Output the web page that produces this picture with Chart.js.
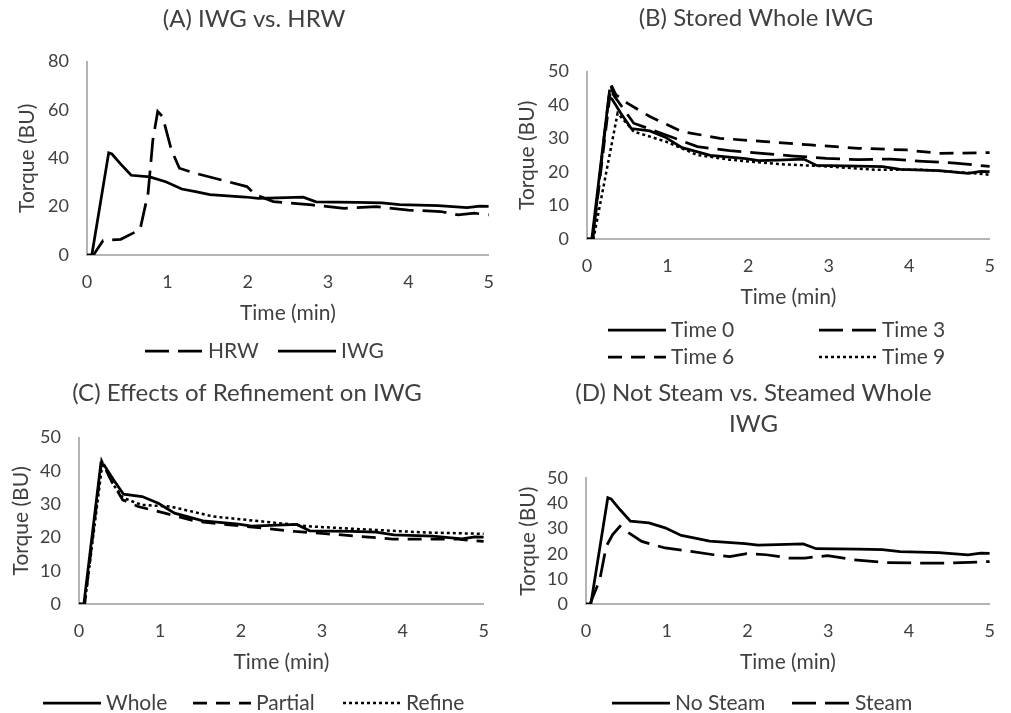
<!DOCTYPE html>
<html lang="en">
<head>
<meta charset="UTF-8">
<title>Dough Mixing Torque</title>
<script src="https://cdn.jsdelivr.net/npm/chart.js"></script>
<style>
  body { margin: 0; background: #fff; }
  #wrap { position: relative; width: 1011px; height: 713px; overflow: hidden; }
  canvas { position: absolute; }
</style>
</head>
<body>
<div id="wrap">
  <canvas id="chartA" width="510" height="371" style="left:0;top:0"></canvas>
  <canvas id="chartB" width="506" height="380" style="left:505px;top:0"></canvas>
  <canvas id="chartC" width="505" height="338" style="left:0;top:375px"></canvas>
  <canvas id="chartD" width="506" height="338" style="left:505px;top:375px"></canvas>
</div>
<script>
// torque (BU) against time (min)
const iwgTime   = [0, 0.06, 0.27, 0.31, 0.42, 0.55, 0.78, 0.98, 1.18, 1.35, 1.53, 1.97, 2.13, 2.37, 2.69, 2.85, 3.37, 3.67, 3.89, 4.37, 4.73, 4.89, 5.0];
const iwgTorque = [0, 0, 42.3, 41.8, 37.6, 33, 32.3, 30.3, 27.3, 26.2, 25, 24, 23.4, 23.6, 23.9, 22, 21.8, 21.6, 20.8, 20.4, 19.6, 20.2, 20.1];

const hrwTime   = [0, 0.08, 0.2, 0.42, 0.66, 0.76, 0.82, 0.88, 0.94, 1.05, 1.15, 1.35, 1.75, 1.99, 2.1, 2.32, 2.8, 3.2, 3.6, 4.0, 4.4, 4.62, 4.82, 5.0];
const hrwTorque = [0, 0, 6, 6.5, 10.5, 25.5, 47.7, 59.4, 57.3, 43.5, 35.9, 33.8, 30.4, 28.3, 24.9, 22.1, 20.7, 19.3, 20, 18.6, 18, 16.6, 17.3, 16.6];

// stored whole IWG, months 3 / 6 / 9
const time3Time   = [0, 0.07, 0.29, 0.33, 0.58, 0.98, 1.37, 1.77, 2.17, 2.57, 2.97, 3.37, 3.77, 4.17, 4.57, 5.0];
const time3Torque = [0, 0, 46.5, 43, 34.6, 31.1, 27.6, 26.4, 25.6, 24.8, 24.1, 23.7, 23.9, 23.2, 22.7, 21.7];
const time6Time   = [0, 0.07, 0.3, 0.36, 0.5, 0.78, 1.18, 1.65, 2.21, 2.77, 3.37, 3.97, 4.37, 5.0];
const time6Torque = [0, 0, 46, 43.1, 40.6, 36.6, 32.1, 30.1, 29.1, 28.1, 27.1, 26.6, 25.6, 25.8];
const time9Time   = [0, 0.08, 0.38, 0.58, 0.98, 1.37, 1.77, 2.37, 2.97, 3.57, 4.17, 4.77, 5.0];
const time9Torque = [0, 0, 37.6, 32.1, 29.1, 25.1, 23.7, 22.4, 21.7, 20.7, 20.7, 19.7, 19.2];

// refinement
const partialTime   = [0, 0.07, 0.28, 0.4, 0.54, 0.73, 1.06, 1.46, 1.86, 2.27, 2.67, 3.07, 3.47, 3.88, 4.28, 4.68, 5.0];
const partialTorque = [0, 0, 43, 37, 31.3, 29.3, 27.3, 24.8, 23.8, 22.8, 21.8, 21.1, 20.3, 19.5, 19.5, 19.5, 18.8];
const refineTime    = [0, 0.07, 0.29, 0.42, 0.54, 0.77, 1.13, 1.66, 2.27, 2.87, 3.47, 4.28, 5.0];
const refineTorque  = [0, 0, 42.5, 36, 32, 29.8, 29.3, 26.3, 24.8, 23.3, 22.5, 21.5, 21.1];

// steamed
const steamTime   = [0, 0.05, 0.17, 0.25, 0.33, 0.42, 0.53, 0.69, 0.98, 1.3, 1.58, 1.78, 1.99, 2.23, 2.51, 2.71, 2.99, 3.32, 3.72, 4.12, 4.53, 5.0];
const steamTorque = [0, 0, 9.6, 22.9, 27.6, 30.9, 28.3, 24.9, 22.3, 20.9, 19.6, 18.9, 20, 19.6, 18.3, 18.3, 19.2, 17.6, 16.5, 16.3, 16.3, 16.9];

const SOLID = [];
const LONG_DASH = [24, 9];
const DASH = [14, 9];
const DOT = [3, 3];

const TEXT = '#404040';
Chart.defaults.font.family = 'Lato, sans-serif';
Chart.defaults.color = TEXT;

// legend drawn as a small grid of line samples
const lineKey = {
  id: 'lineKey',
  afterDraw(chart, args, opts) {
    const ctx = chart.ctx;
    ctx.save();
    ctx.font = '21px Lato, sans-serif';
    ctx.fillStyle = TEXT;
    ctx.textBaseline = 'middle';
    chart.data.datasets.forEach((ds, i) => {
      const x = opts.x[i], y = opts.y[i];
      ctx.strokeStyle = ds.borderColor;
      ctx.lineWidth = ds.borderWidth;
      ctx.setLineDash(ds.borderDash);
      ctx.beginPath();
      ctx.moveTo(x, y);
      ctx.lineTo(x + 58, y);
      ctx.stroke();
      ctx.fillText(ds.label, x + 63, y);
    });
    ctx.restore();
  }
};

function series(label, time, torque, dash) {
  return {
    label: label,
    data: time.map((t, i) => ({ x: t, y: torque[i] })),
    borderColor: '#000',
    borderWidth: dash === DOT ? 2.5 : 2.75,
    borderDash: dash,
    pointRadius: 0,
    tension: 0,
    fill: false
  };
}

function makePanel(id, p) {
  return new Chart(document.getElementById(id), {
    type: 'line',
    data: { datasets: p.series },
    options: {
      responsive: false,
      animation: false,
      layout: { padding: p.pad },
      plugins: {
        legend: { display: false },
        tooltip: { enabled: false },
        title: {
          display: true,
          text: p.title,
          color: TEXT,
          font: { size: 24, weight: 'normal', lineHeight: 1.32 },
          padding: p.titlePad
        },
        lineKey: { x: p.keyX, y: p.keyY }
      },
      scales: {
        x: {
          type: 'linear',
          min: 0, max: 5,
          grid: { display: false, drawTicks: false },
          border: { color: '#b4b4b4', width: 2 },
          ticks: { stepSize: 1, padding: 16, font: { size: 18 } },
          title: { display: true, text: 'Time (min)', font: { size: 21 }, padding: 0 },
          afterFit: s => { s.height = 71; }
        },
        y: {
          min: 0, max: p.yMax,
          grid: { display: false, drawTicks: false },
          border: { color: '#b4b4b4', width: 2 },
          ticks: { stepSize: p.yStep, padding: 18, font: { size: 18 } },
          title: { display: true, text: 'Torque (BU)', font: { size: 21 }, padding: { top: p.yTitlePad, bottom: 0 } },
          afterFit: s => { s.width = p.yWidth; }
        }
      }
    },
    plugins: [lineKey]
  });
}

makePanel('chartA', {
  title: '(A) IWG vs. HRW',
  series: [
    series('HRW', hrwTime, hrwTorque, LONG_DASH),
    series('IWG', iwgTime, iwgTorque, SOLID)
  ],
  yMax: 80, yStep: 20,
  pad: { left: 8, right: 10, top: 0, bottom: 45 },
  titlePad: { top: 3, bottom: 27 },
  yTitlePad: 7, yWidth: 79,
  keyX: [145, 278], keyY: [351, 351]
});

makePanel('chartB', {
  title: '(B) Stored Whole IWG',
  series: [
    series('Time 0', iwgTime, iwgTorque, SOLID),
    series('Time 3', time3Time, time3Torque, LONG_DASH),
    series('Time 6', time6Time, time6Torque, DASH),
    series('Time 9', time9Time, time9Torque, DOT)
  ],
  yMax: 50, yStep: 10,
  pad: { left: 3, right: 7, top: 0, bottom: 70 },
  titlePad: { top: 2, bottom: 38 },
  yTitlePad: 7, yWidth: 79,
  keyX: [103, 314, 103, 314], keyY: [330, 330, 357, 357]
});

makePanel('chartC', {
  title: '(C) Effects of Refinement on IWG',
  series: [
    series('Whole', iwgTime, iwgTorque, SOLID),
    series('Partial', partialTime, partialTorque, DASH),
    series('Refine', refineTime, refineTorque, DOT)
  ],
  yMax: 50, yStep: 10,
  pad: { left: 1, right: 12, top: 0, bottom: 38 },
  titlePad: { top: 2, bottom: 29 },
  yTitlePad: 8, yWidth: 78,
  keyX: [43, 193, 343], keyY: [328, 328, 328]
});

makePanel('chartD', {
  title: ['(D) Not Steam vs. Steamed Whole', 'IWG'],
  series: [
    series('No Steam', iwgTime, iwgTorque, SOLID),
    series('Steam', steamTime, steamTorque, LONG_DASH)
  ],
  yMax: 50, yStep: 10,
  pad: { left: 3, right: 12, top: 0, bottom: 38 },
  titlePad: { top: 2, bottom: 38 },
  yTitlePad: 8, yWidth: 78,
  keyX: [107, 287], keyY: [328, 328]
});
</script>
</body>
</html>
